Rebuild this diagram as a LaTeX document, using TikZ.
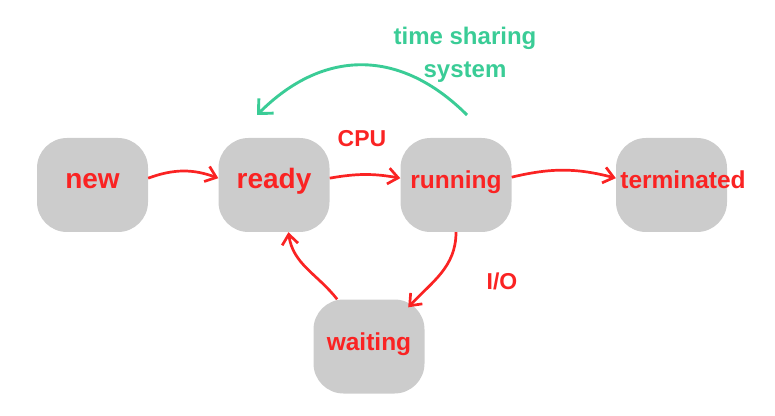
\documentclass[tikz,border=0pt]{standalone}
\usepackage{fontspec}
\setmainfont{Liberation Sans}
\usepackage{xcolor}
\definecolor{StateGray}{RGB}{204,204,204}
\definecolor{StateRed}{RGB}{250,35,35}
\definecolor{ShareGreen}{RGB}{58,204,150}
\usepackage{tikz}
\usetikzlibrary{arrows.meta, positioning}
\tikzset{
  % State box
  statebox/.style={
    rectangle, rounded corners=30pt,
    fill=StateGray,
    minimum width=111pt, minimum height=94pt,
    text=StateRed, font=\fontsize{24.5}{28}\selectfont\bfseries,
    text height=12pt, text depth=4pt,
    inner sep=0pt
  },
  statebox big/.style={statebox, font=\fontsize{28}{32}\selectfont\bfseries},
  % Arrows
  arr/.style={-{Straight Barb[length=10pt,width=16pt]}, line width=2.7pt, StateRed},
  sharr/.style={-{Straight Barb[length=11pt,width=21pt]}, line width=2.9pt, ShareGreen},
  % Edge label
  elabel/.style={text=StateRed, font=\fontsize{23}{26}\selectfont\bfseries},
}

\begin{document}
\begin{tikzpicture}[x=1pt,y=1pt]
  \useasboundingbox (0,0) rectangle (775,415);

  % States
  \node[statebox big] (new)     at (92.5,230)  {new};
  \node[statebox big] (ready)   at (274,230)   {ready};
  \node[statebox]     (running) at (456,230)   {running};
  \node[statebox]     (terminated) at (671.5,230) {\makebox[0pt]{\hspace{23pt}terminated}};
  \node[statebox]     (waiting) at (369,68.5)  {waiting};

  % Labels
  \node[elabel] (cpu) at (362,276) {CPU};
  \node[elabel] (io)  at (502,134) {I/O};
  \node[align=center, text=ShareGreen, font=\fontsize{24}{33}\selectfont\bfseries]
    (ts) at (465,360) {time sharing\\system};

  % Transitions
  \draw[arr] (new.7) to[bend left=20] (ready.173);
  \draw[arr] (ready.7) to[bend left=10] (running.173);
  \draw[arr] (running.8) to[bend left=14] (terminated.173);
  \draw[arr] (running.south) to[out=-90,in=47] ([xshift=-8pt,yshift=-8pt]waiting.45);
  \draw[arr] (waiting.124) to[out=128,in=-82] (ready.-73);

  \coordinate (ts start) at (467,300);
  \coordinate (ts end)   at (257,300);
  \draw[sharr] (ts start) to[out=135,in=45,looseness=1.15] (ts end);
\end{tikzpicture}
\end{document}
